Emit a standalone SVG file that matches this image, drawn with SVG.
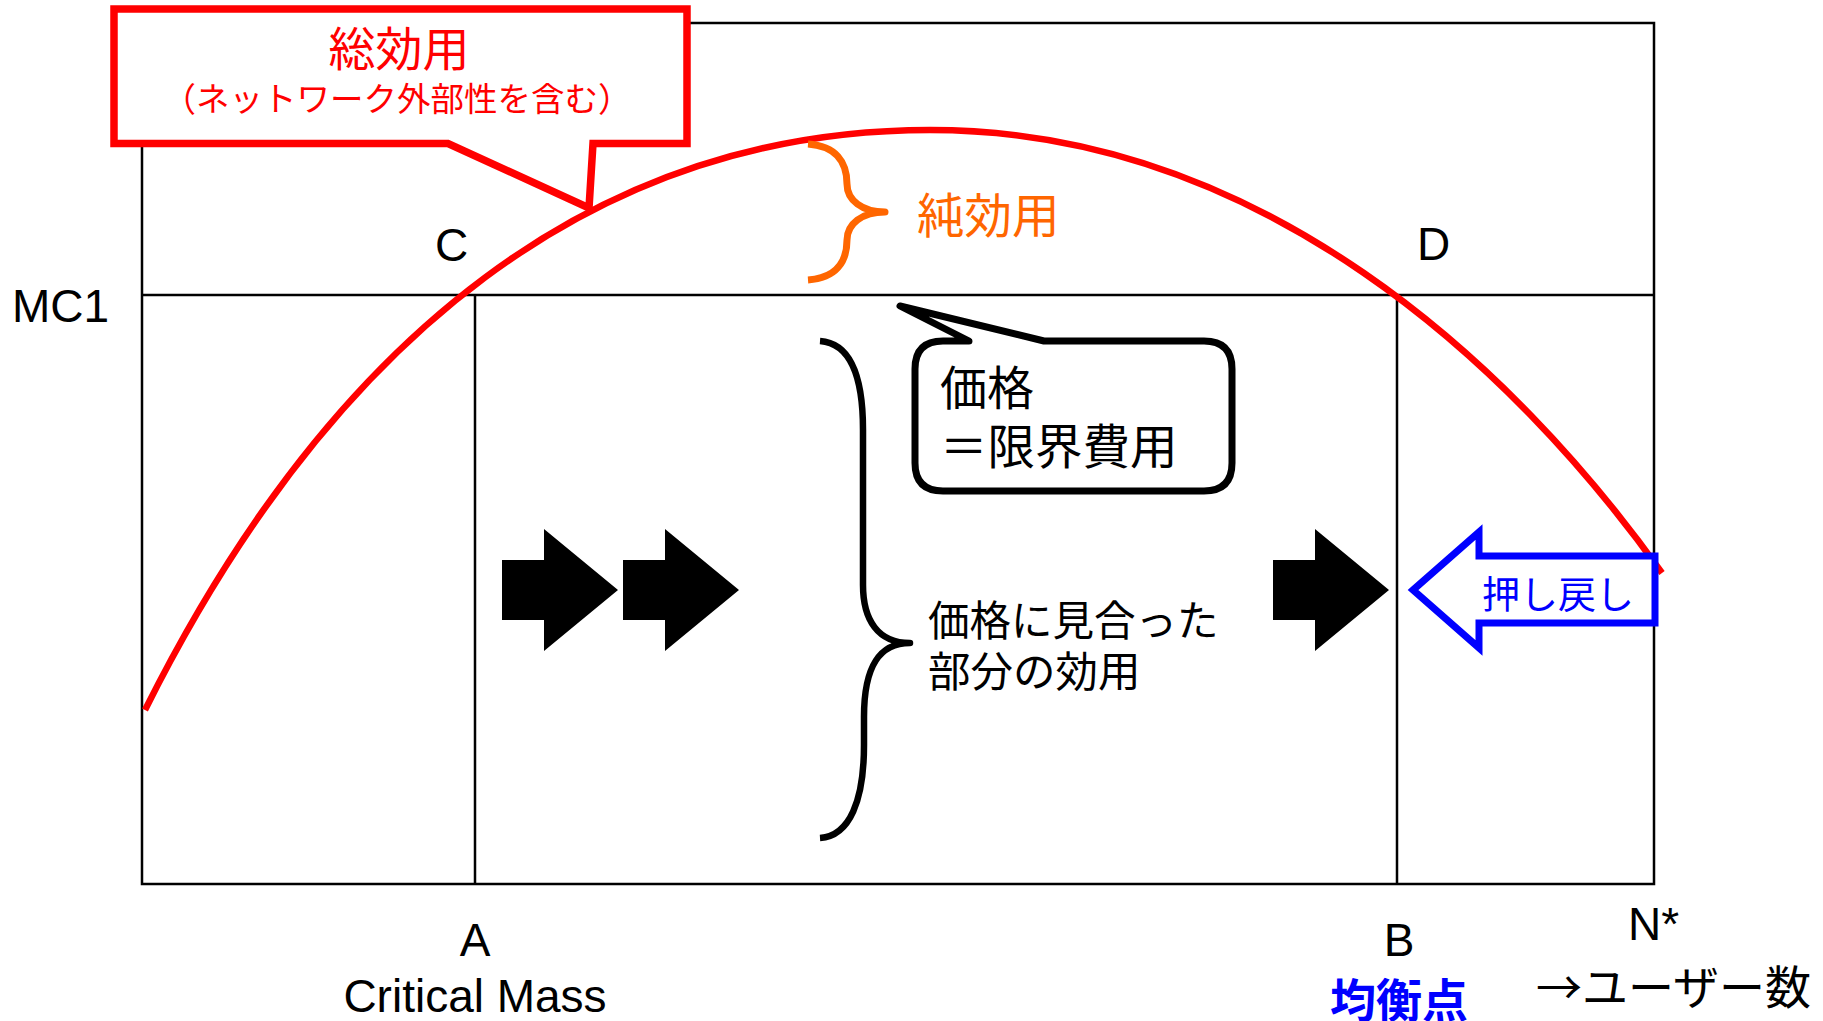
<svg xmlns="http://www.w3.org/2000/svg" width="1823" height="1021" viewBox="0 0 1823 1021">
<style>
.frame{fill:none;stroke:#000;stroke-width:2.5}
.jp{font-family:"Noto Sans CJK JP","Noto Sans",sans-serif}
.en{font-family:"Liberation Sans",Arial,sans-serif;font-size:46px;fill:#000}
.blk{fill:#000}
</style>
<rect width="1823" height="1021" fill="#fff"/>
<g id="axes">
<rect class="frame" x="142" y="23" width="1512" height="861"/>
<line class="frame" x1="142" y1="295" x2="1654" y2="295"/>
<line class="frame" x1="475" y1="295" x2="475" y2="884"/>
<line class="frame" x1="1397" y1="295" x2="1397" y2="884"/>
</g>
<g id="curve">
<path d="M145,710 C335,330 600,130 930,130 C1260,130 1512,363 1662,573" fill="none" stroke="#ff0000" stroke-width="6.5"/>
</g>
<g id="total-utility-callout">
<path d="M114,9 L687,9 L687,143.5 L593,143.5 L589,208 L448,143.5 L114,143.5 Z" fill="#fff" stroke="#ff0000" stroke-width="7.5"/>
<text class="jp" x="399" y="66" font-size="47" fill="#ff0000" text-anchor="middle">総効用</text>
<text class="jp" x="397" y="111" font-size="33.5" fill="#ff0000" text-anchor="middle">（ネットワーク外部性を含む）</text>
</g>
<g id="labels-points">
<text class="en" x="12" y="322">MC1</text>
<text class="en" x="435" y="261">C</text>
<text class="en" x="1417" y="260">D</text>
<text class="en" x="475" y="956" text-anchor="middle">A</text>
<text class="en" x="475" y="1012" text-anchor="middle" font-size="47.5">Critical Mass</text>
<text class="en" x="1399" y="956" text-anchor="middle">B</text>
<text class="en" x="1628" y="940">N*</text>
<text class="jp" x="1399" y="1017" font-size="46" font-weight="bold" fill="#0000ff" text-anchor="middle">均衡点</text>
<text class="jp" x="1536" y="1004" font-size="46" fill="#000">→ユーザー数</text>
</g>
<g id="net-utility">
<path d="M808,144 C836,146 847,162 847,184 C847,200 862,212 885,212 C862,212 847,224 847,240 C847,262 836,278 808,280" fill="none" stroke="#ff6600" stroke-width="7" stroke-linejoin="round"/>
<text class="jp" x="917" y="233" font-size="47.5" fill="#ff6600">純効用</text>
</g>
<g id="price-callout">
<path d="M915,369 Q915,341 943,341 L969,341 L900,306 L1044,341 L1204,341 Q1232,341 1232,369 L1232,463 Q1232,491 1204,491 L943,491 Q915,491 915,463 Z" fill="#fff" stroke="#000" stroke-width="7" stroke-linejoin="round"/>
<text class="jp" x="940" y="405" font-size="47" fill="#000">価格</text>
<text class="jp" x="940" y="464" font-size="47.5" fill="#000">＝限界費用</text>
</g>
<g id="price-utility">
<path d="M820,341 C848,343 863,372 863,430 L863,585 C863,620 878,643 910,643 C880,643 864,665 864,717 L864,745 C864,800 850,836 820,838" fill="none" stroke="#000" stroke-width="6.5" stroke-linejoin="round"/>
<text class="jp" x="928" y="636" font-size="41.5" fill="#000">価格に見合った</text>
<text class="jp" x="928" y="687" font-size="42.5" fill="#000">部分の効用</text>
</g>
<g id="connectors">
<polygon class="blk" points="502,560 544,560 544,529 618,590 544,651 544,620 502,620"/>
<polygon class="blk" points="623,560 665,560 665,529 739,590 665,651 665,620 623,620"/>
<polygon class="blk" points="1273,560 1315,560 1315,529 1389,590 1315,651 1315,620 1273,620"/>
</g>
<g id="push-back">
<path d="M1413,590 L1479,532 L1479,556 L1655,556 L1655,623 L1479,623 L1479,648 Z" fill="#fff" stroke="#0000ff" stroke-width="7"/>
<text class="jp" x="1482" y="608" font-size="38" fill="#0000ff">押し戻し</text>
</g>
</svg>
